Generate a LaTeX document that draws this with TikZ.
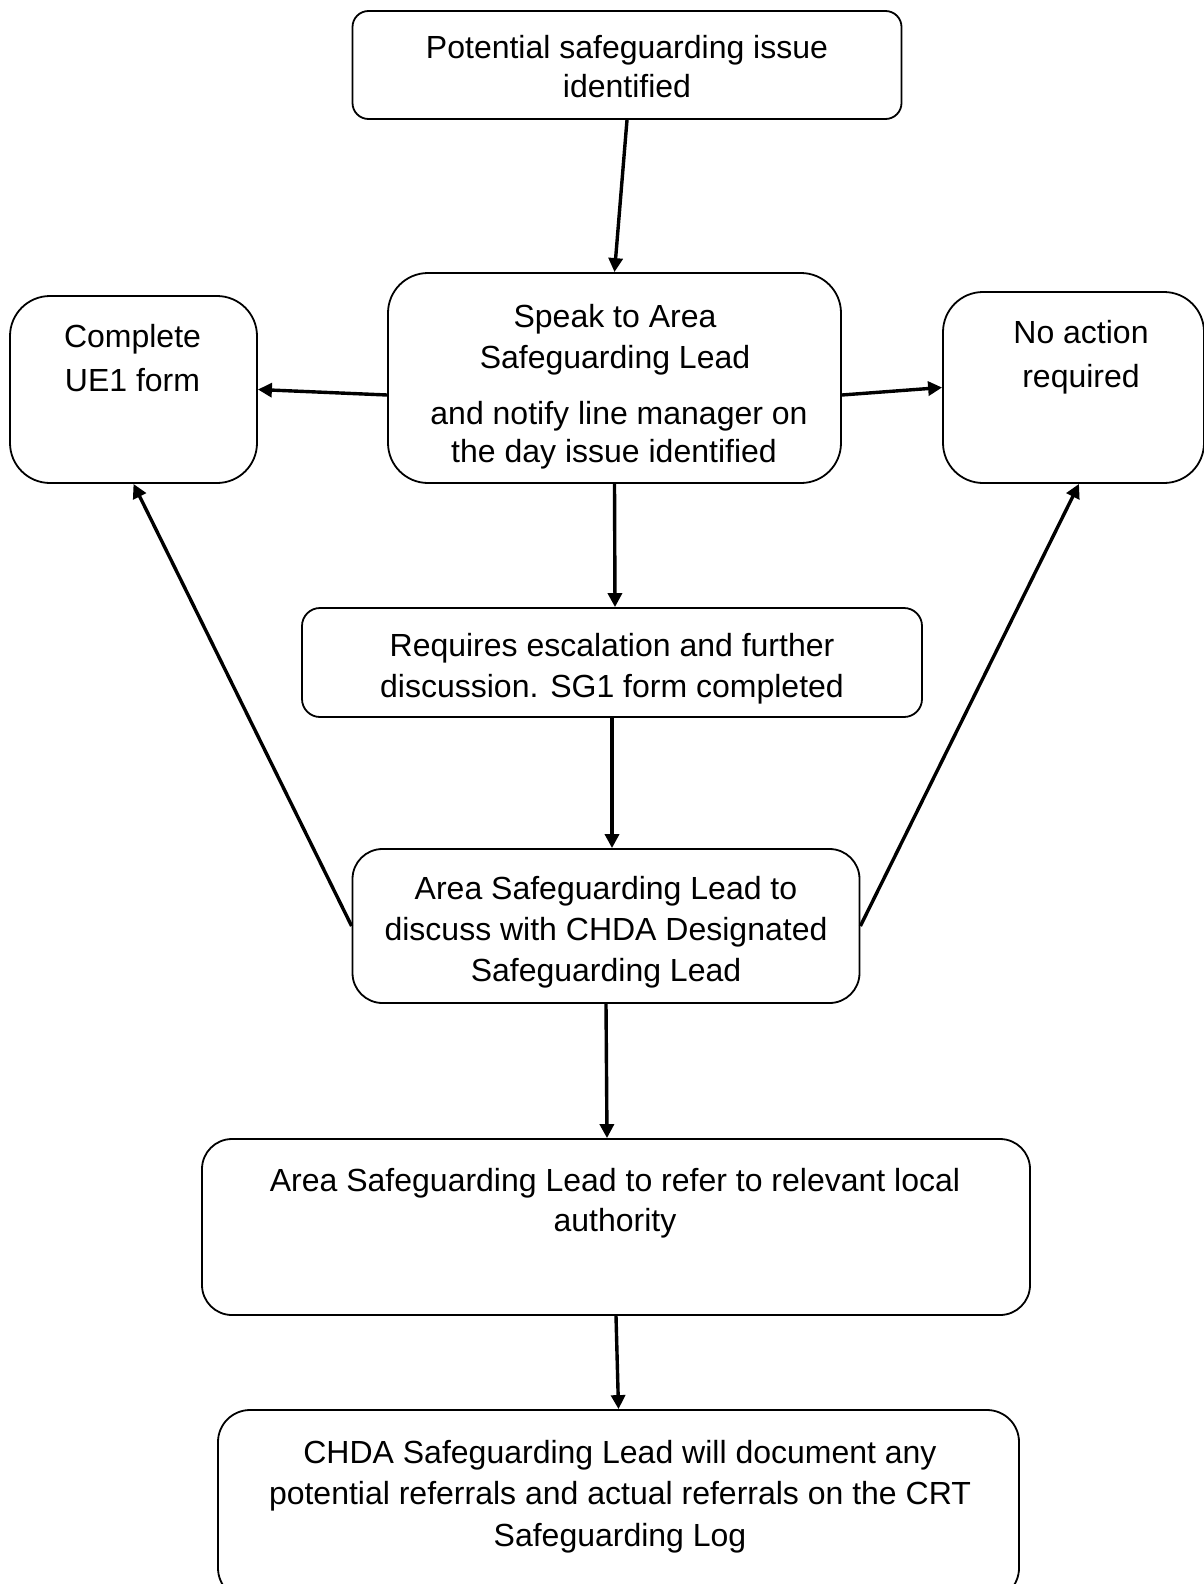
\documentclass[tikz,border=0pt]{standalone}
\usepackage{fontspec}
\setmainfont{Liberation Sans}
\usetikzlibrary{arrows.meta,calc}
\begin{document}
\begin{tikzpicture}[x=1pt,y=-1pt,
  box/.style={draw, line width=1.8pt, rounded corners=#1, inner sep=0pt},
  box/.default=20pt,
  txt/.style={anchor=base, inner sep=0pt, yshift=-4pt, font=\fontsize{32}{40}\selectfont},
  arr/.style={line width=3.4pt, -{Triangle[length=14pt,width=14pt]}}]
\useasboundingbox (0,0) rectangle (1204,1584);
\clip (0,0) rectangle (1204,1584);
% boxes
\node[box=16pt, minimum width=549pt, minimum height=108pt] (top) at (627,65) {};
\node[box=40pt, minimum width=453pt, minimum height=210pt] (speak) at (614.5,378) {};
\node[box=40pt, minimum width=247pt, minimum height=187pt] (ue) at (133.5,389.5) {};
\node[box=40pt, minimum width=261pt, minimum height=191pt] (noact) at (1073.5,387.5) {};
\node[box=18pt, minimum width=620pt, minimum height=109pt] (req) at (612,662.5) {};
\node[box=30pt, minimum width=507pt, minimum height=154pt] (area) at (606,926) {};
\node[box=30pt, minimum width=828pt, minimum height=176pt] (refer) at (616,1227) {};
\node[box=32pt, minimum width=801pt, minimum height=190pt] (chda) at (618.5,1505) {};
% texts
\node[txt] (t1a) at (627,55) {Potential safeguarding issue};
\node[txt] (t1b) at (627,94) {identified};
\node[txt] (t2a) at (615,323) {Speak to Area};
\node[txt] (t2b) at (615,364) {Safeguarding Lead};
\node[txt] (t2c) at (619,420) {and notify line manager on};
\node[txt] (t2d) at (614,458.5) {the day issue identified};
\node[txt] (t3a) at (132.5,343) {Complete};
\node[txt] (t3b) at (132.5,387) {UE1 form};
\node[txt] (t4a) at (1081,339) {No action};
\node[txt] (t4b) at (1081,383) {required};
\node[txt] (t5a) at (612,652.5) {Requires escalation and further};
\node[txt] (t5b) at (612,693) {discussion. SG1 form completed};
\node[txt] (t6a) at (606,895) {Area Safeguarding Lead to};
\node[txt] (t6b) at (606,936) {discuss with CHDA Designated};
\node[txt] (t6c) at (606,977) {Safeguarding Lead};
\node[txt] (t7a) at (615,1187) {Area Safeguarding Lead to refer to relevant local};
\node[txt] (t7b) at (615,1227) {authority};
\node[txt] (t8a) at (620,1459.5) {CHDA Safeguarding Lead will document any};
\node[txt] (t8b) at (620,1500) {potential referrals and actual referrals on the CRT};
\node[txt] (t8c) at (620,1542) {Safeguarding Log};
% connectors
\draw[arr] (top.south) -- (speak.north);
\draw[arr] ($(speak.west)+(0,17)$) -- (ue.east);
\draw[arr] ($(speak.east)+(0,17)$) -- (noact.west);
\draw[arr] (speak.south) -- ($(req.north)+(3,0)$);
\draw[arr] (req.south) -- ($(area.north)+(6,0)$);
\draw[arr] (area.west) -- (ue.south);
\draw[arr] (area.east) -- ($(noact.south)+(5.5,0)$);
\draw[arr] (area.south) -- ($(refer.north)+(-9,0)$);
\draw[arr] (refer.south) -- (chda.north);
\end{tikzpicture}
\end{document}
